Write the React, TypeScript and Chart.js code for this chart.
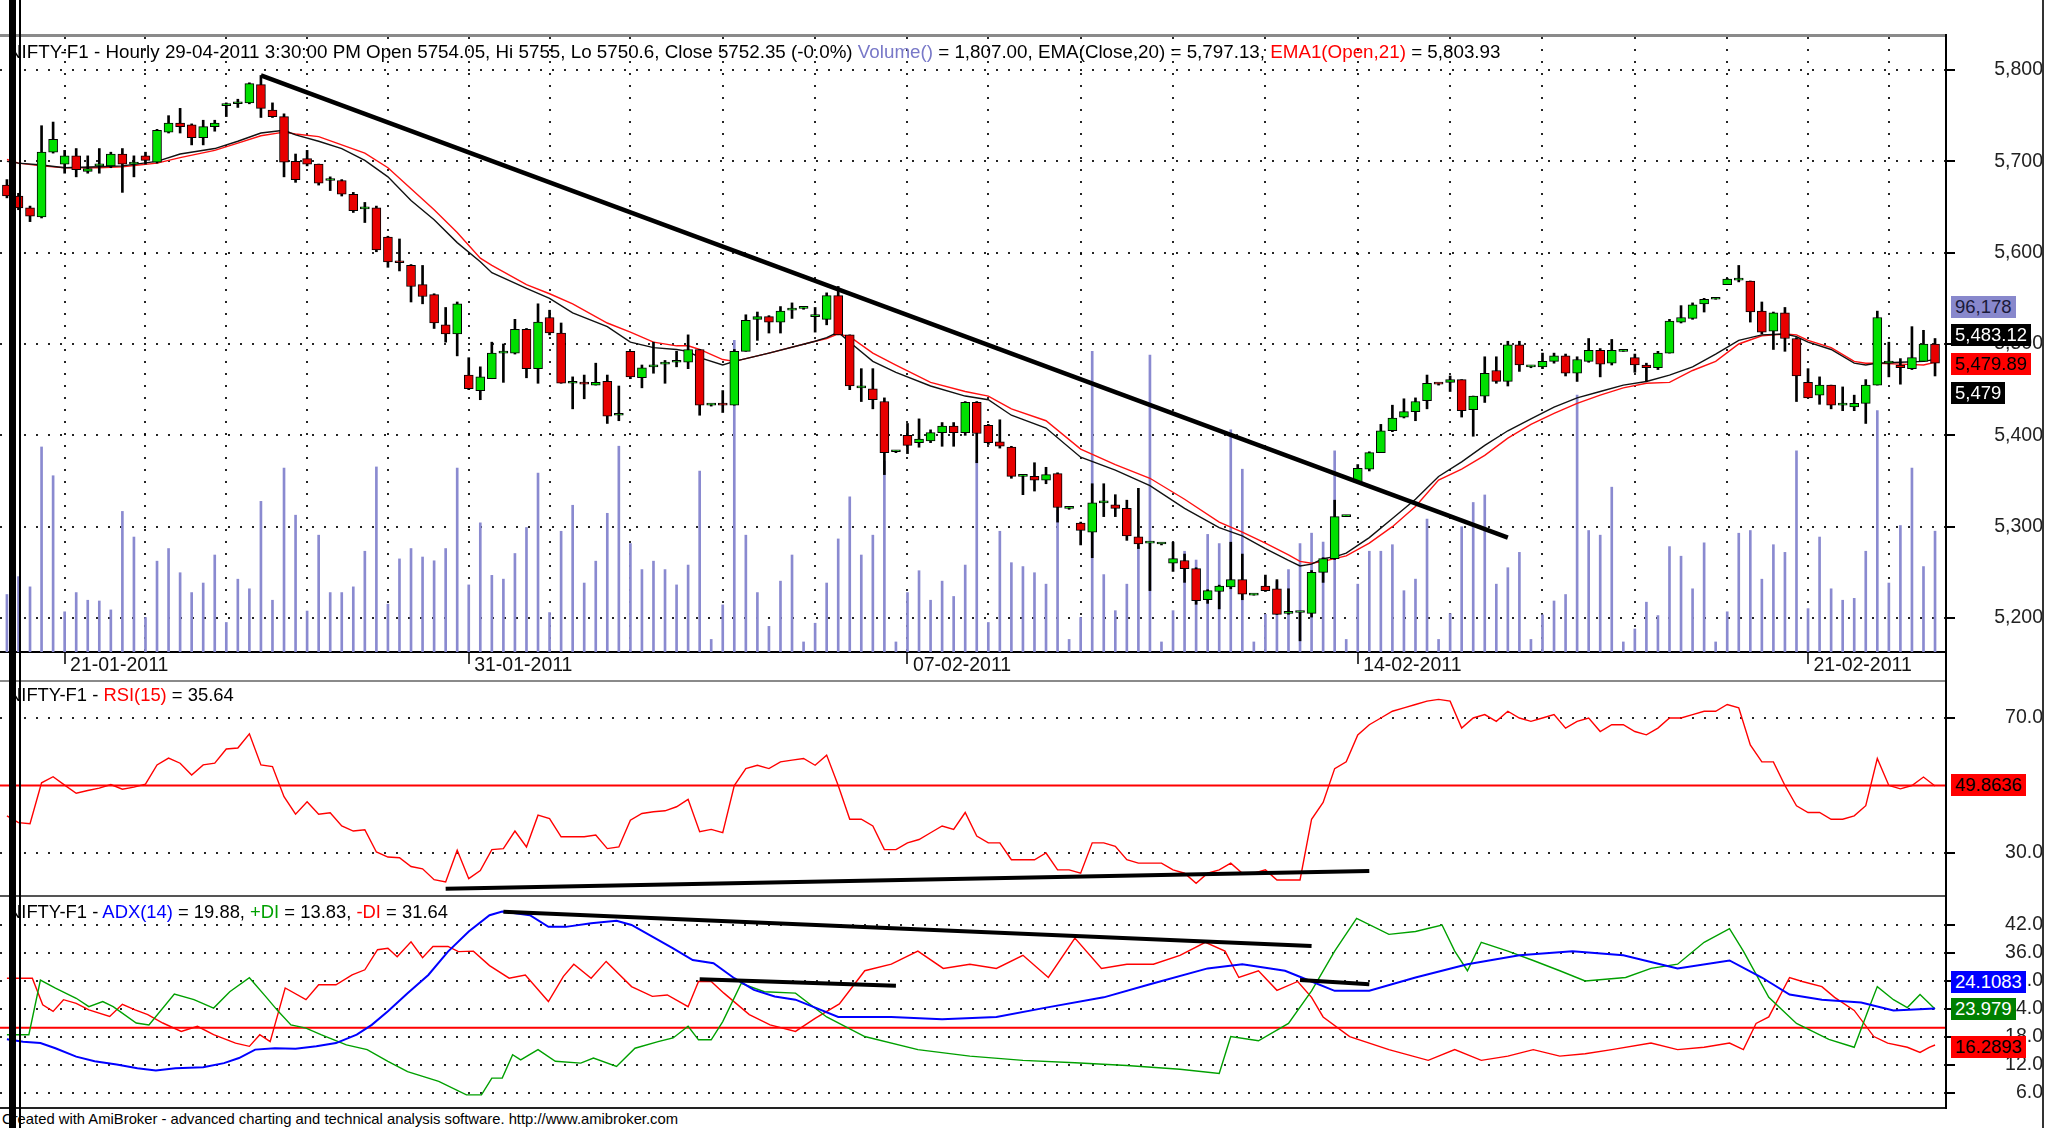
import React, { useEffect, useRef } from 'react';
import { Chart, registerables } from 'chart.js';

Chart.register(...registerables);

const FONT = '"Liberation Sans", Arial, Helvetica, sans-serif';
Chart.defaults.font.family = FONT;

// ---------------- DATA ----------------
const openP = [5674,5662,5649,5639,5710,5697,5706,5689,5695,5695,5708,5697,5706,5699,5732,5742,5740,5726,5738,5761,5763,5764,5784,5756,5749,5700,5703,5697,5679,5679,5664,5648,5649,5617,5590,5586,5565,5554,5521,5511,5466,5449,5462,5490,5490,5516,5473,5529,5512,5457,5457,5455,5459,5422,5492,5463,5475,5478,5480,5480,5494,5433,5434,5433,5492,5527,5530,5524,5537,5539,5530,5527,5553,5510,5452,5451,5437,5382,5400,5392,5394,5403,5410,5403,5436,5411,5393,5387,5355,5355,5351,5358,5320,5304,5294,5326,5324,5320,5289,5282,5281,5260,5263,5254,5220,5229,5234,5242,5225,5235,5232,5205,5206,5205,5250,5265,5311,5349,5363,5381,5405,5420,5426,5438,5457,5458,5461,5428,5443,5471,5459,5499,5475,5475,5481,5487,5468,5481,5493,5479,5492,5485,5477,5474,5490,5524,5528,5544,5549,5565,5570,5569,5536,5514,5534,5506,5458,5444,5455,5433,5431,5435,5455,5479,5477,5473,5481,5500];
const highP = [5680,5665,5651,5739,5743,5712,5714,5706,5714,5710,5714,5706,5710,5735,5750,5758,5741,5745,5745,5764,5768,5786,5794,5764,5752,5708,5712,5697,5683,5680,5666,5655,5651,5618,5615,5587,5586,5555,5540,5546,5485,5475,5502,5500,5527,5517,5544,5537,5523,5464,5466,5479,5466,5454,5492,5477,5502,5482,5492,5510,5494,5434,5449,5494,5532,5535,5531,5541,5545,5540,5540,5556,5563,5510,5473,5473,5441,5383,5413,5418,5406,5414,5414,5437,5437,5412,5417,5388,5356,5370,5365,5359,5321,5305,5347,5347,5335,5329,5342,5282,5281,5283,5270,5255,5231,5236,5283,5270,5225,5247,5242,5232,5206,5252,5266,5329,5311,5368,5382,5412,5433,5440,5441,5466,5457,5465,5461,5443,5486,5486,5503,5503,5476,5490,5490,5489,5486,5506,5495,5505,5492,5489,5479,5492,5527,5542,5545,5550,5549,5572,5586,5569,5546,5535,5540,5507,5473,5464,5455,5453,5444,5461,5536,5502,5484,5519,5515,5506];
const lowP = [5660,5647,5634,5638,5709,5687,5683,5687,5687,5693,5666,5683,5697,5698,5731,5731,5718,5718,5733,5749,5759,5763,5748,5748,5683,5677,5695,5674,5668,5662,5644,5633,5601,5584,5580,5546,5544,5517,5502,5487,5450,5439,5462,5458,5489,5463,5457,5510,5457,5429,5440,5455,5413,5416,5462,5452,5468,5457,5475,5473,5422,5432,5425,5433,5492,5504,5512,5512,5528,5538,5513,5521,5510,5450,5437,5429,5357,5381,5380,5387,5392,5388,5388,5400,5370,5390,5386,5353,5335,5339,5347,5305,5319,5280,5266,5311,5311,5285,5276,5230,5280,5251,5239,5215,5216,5210,5232,5220,5225,5229,5204,5204,5175,5201,5239,5264,5311,5348,5361,5381,5404,5419,5416,5429,5455,5448,5420,5399,5436,5457,5454,5470,5474,5473,5479,5465,5459,5480,5464,5477,5492,5469,5459,5472,5490,5523,5527,5535,5549,5565,5568,5524,5511,5494,5492,5437,5441,5434,5429,5427,5427,5413,5455,5464,5456,5472,5481,5465];
const closeP = [5662,5649,5640,5710,5724,5706,5691,5692,5696,5708,5697,5697,5701,5734,5742,5738,5726,5738,5742,5762,5763,5785,5758,5749,5699,5680,5697,5676,5679,5664,5646,5648,5603,5590,5589,5563,5552,5523,5511,5544,5451,5464,5490,5490,5516,5473,5524,5512,5457,5457,5456,5458,5421,5422,5464,5474,5476,5478,5480,5494,5433,5433,5433,5492,5526,5530,5524,5536,5537,5539,5530,5553,5510,5454,5452,5439,5381,5382,5389,5396,5403,5410,5403,5436,5402,5392,5388,5355,5355,5351,5357,5321,5320,5296,5326,5326,5320,5290,5281,5282,5281,5265,5254,5219,5230,5235,5242,5226,5225,5230,5204,5205,5206,5250,5265,5311,5311,5364,5381,5405,5419,5426,5437,5457,5456,5461,5427,5443,5468,5459,5499,5477,5475,5481,5487,5468,5483,5493,5478,5493,5492,5477,5474,5490,5525,5529,5543,5549,5549,5571,5570,5535,5513,5534,5506,5465,5441,5455,5433,5433,5435,5455,5529,5479,5474,5485,5500,5479];
const volume = [45750,60000,51850,163200,140300,32000,47300,41200,40600,33500,111900,91500,27450,72300,82350,63100,47300,54900,77200,23500,57950,50300,119900,41200,146400,108900,32600,93000,47300,47300,51850,80200,147300,38100,74100,82350,75600,72600,82350,146400,53400,102800,61000,58000,78400,99100,142400,31400,96100,116800,54900,72300,110400,163800,86300,65600,72300,65600,53400,69200,144000,10000,37500,248000,93000,47300,20400,56400,77200,8000,22900,54900,90000,123500,77200,93000,152000,8000,47300,64700,41200,56400,44200,69200,152500,23500,96100,71100,68000,63100,54000,112900,10000,27450,239400,61600,32900,54000,83900,236400,8000,32900,80200,73200,93600,86300,176900,145500,8000,29900,56400,65600,86300,94600,87500,160100,10000,54000,80200,80200,85400,48800,58000,105800,10000,30500,99700,119000,125000,54000,67100,79300,10000,29600,40600,45750,204400,96700,93000,131200,8000,18300,39650,29000,83900,76250,50300,86900,8000,32000,94550,96700,57950,85400,79300,160100,34500,91500,50300,41200,42700,80200,192150,54900,100650,146400,68000,96178];

const emaClose: [number, number][] = [[0,5700],[1,5698],[3,5696],[5,5693],[8,5694],[10,5695],[13,5700],[15,5708],[18,5714],[20,5722],[22,5731],[24,5734],[25,5729],[27,5722],[29,5714],[31,5701],[33,5683],[35,5657],[37,5636],[39,5611],[41,5590],[42,5578],[45,5561],[47,5550],[49,5534],[52,5519],[54,5502],[56,5496],[58,5494],[59,5492],[60,5485],[62,5477],[63,5481],[66,5490],[70,5503],[71,5507],[72,5513],[73,5502],[75,5481],[77,5469],[80,5454],[83,5443],[85,5439],[87,5422],[90,5408],[93,5376],[96,5362],[99,5345],[102,5320],[105,5299],[107,5290],[109,5276],[111,5263],[112,5257],[113,5259],[114,5265],[115,5267],[116,5271],[118,5288],[120,5309],[122,5330],[124,5355],[126,5371],[128,5389],[130,5405],[132,5418],[134,5431],[136,5441],[138,5448],[140,5455],[142,5459],[144,5466],[146,5475],[148,5489],[150,5504],[152,5510],[154,5511],[155,5508],[156,5502],[158,5494],[160,5479],[161,5477],[162,5479],[164,5480],[166,5481],[167,5483.12]];
const emaOpen: [number, number][] = [[0,5702],[1,5698],[3,5695],[5,5693],[8,5693],[10,5694],[13,5698],[15,5704],[18,5712],[20,5720],[22,5728],[24,5732],[25,5730],[27,5727],[29,5718],[31,5709],[33,5693],[35,5670],[37,5647],[39,5622],[41,5594],[42,5586],[45,5565],[47,5555],[49,5544],[52,5523],[54,5513],[56,5502],[58,5498],[59,5498],[60,5494],[62,5483],[63,5481],[66,5490],[70,5503],[71,5506],[72,5511],[73,5508],[75,5490],[77,5477],[80,5458],[83,5448],[85,5443],[87,5429],[90,5416],[93,5385],[96,5368],[99,5353],[102,5330],[105,5305],[107,5294],[109,5282],[111,5269],[112,5262],[113,5260],[114,5262],[115,5265],[116,5268],[118,5282],[120,5300],[122,5322],[124,5351],[126,5363],[128,5378],[130,5397],[132,5412],[134,5424],[136,5435],[138,5444],[140,5452],[142,5457],[144,5458],[146,5471],[148,5481],[150,5500],[152,5509],[154,5511],[155,5510],[156,5504],[158,5496],[160,5481],[161,5479],[162,5479],[164,5478],[166,5477],[167,5479.89]];
const priceTrend: [number, number][] = [[22,5794],[130,5288]];

const rsiPts: [number, number][] = [[0,41],[1,39],[2,38.7],[3,50.8],[4,52.6],[5,50.1],[6,47.7],[7,48.5],[8,49.2],[9,50.3],[10,48.9],[11,49.5],[12,50.4],[13,56.1],[14,58.1],[15,56.6],[16,53.1],[17,56.1],[18,56.6],[19,60.8],[20,61.1],[21,65.3],[22,56.1],[23,55.6],[24,46.7],[25,41.5],[26,45.2],[27,41.5],[28,41.9],[29,38],[30,36.5],[31,36.9],[32,30.3],[33,28.8],[34,28.6],[35,26],[36,25.3],[37,22.1],[38,21.4],[39,30.8],[40,22.4],[41,24.8],[42,31],[43,31.3],[44,36.5],[45,31.8],[46,41.2],[47,40.2],[48,34.8],[49,34.8],[50,34.8],[51,35.3],[52,31.3],[53,31.8],[54,39.7],[55,41.7],[56,42.2],[57,42.5],[58,43.7],[59,45.9],[60,36.3],[61,37],[62,36],[63,50],[64,55],[65,56],[66,55],[67,57],[68,57.5],[69,58],[70,56],[71,59],[72,50],[73,40],[74,40],[75,38],[76,31],[77,31],[78,33],[79,34],[80,36],[81,38],[82,37],[83,42],[84,35],[85,33],[86,33],[87,28],[88,28],[89,28],[90,30],[91,25],[92,25],[93,24],[94,33],[95,33],[96,32],[97,28],[98,27],[99,27],[100,27],[101,25],[102,24],[103,21],[104,24],[105,25],[106,27],[107,24],[108,24],[109,25],[110,22],[111,22],[112,22],[113,40],[114,45],[115,55],[116,57],[117,65],[118,68],[119,70],[120,72],[121,73],[122,74],[123,75],[124,75.5],[125,75],[126,67],[127,70],[128,71],[129,69],[130,72],[131,70],[132,69],[133,70],[134,71],[135,67],[136,69],[137,70],[138,66],[139,68],[140,68],[141,66],[142,65],[143,67],[144,70],[145,70],[146,71],[147,72],[148,72],[149,74],[150,73],[151,62],[152,57],[153,57],[154,50],[155,44],[156,42],[157,42],[158,40],[159,40],[160,41],[161,44],[162,58],[163,50],[164,49],[165,50],[166,52.5],[167,49.86]];
const rsiTrend: [number, number][] = [[38,19.4],[118,24.7]];
const rsiLevel = 50;

const adxPts: [number, number][] = [[0,17.5],[1.4,17],[2.9,16.7],[4.2,15.6],[6,13.8],[7.6,12.8],[9.5,12.1],[11.3,11.3],[12.9,10.8],[14.6,11.3],[17,11.5],[18.8,12.4],[20.1,13.5],[21.5,15.3],[23.2,15.6],[25,15.5],[26.8,16],[28.5,16.7],[30.3,18.5],[31.6,20.6],[33,23.5],[34.7,27.4],[36.5,31.3],[38.2,36.3],[40,40.6],[41.8,44.1],[42.9,44.9],[45.3,44.1],[46.9,41.6],[48.4,41.6],[50.6,42.4],[52.8,42.9],[54.1,42],[55.9,39.5],[57.7,37],[59.4,34.5],[61.2,33.8],[63,30.6],[64.7,28.1],[66.5,26.7],[68.3,26],[72,22.3],[76.6,22.3],[81,21.8],[85.7,22.3],[90,24.3],[95,26.5],[99,29.3],[104,32.7],[107,33.6],[110.7,32.2],[113,29.9],[115,27.9],[118,27.9],[122,30.75],[126.5,33.6],[131,35.5],[135.6,36.4],[140,35.5],[144.7,32.7],[149.2,34.4],[152,30.75],[154.4,27.1],[157.2,26],[160.6,25.4],[163.4,23.7],[167,24.11]];
const pdiPts: [number, number][] = [[0,18.5],[1.9,18.5],[2.9,30.2],[4.2,28.5],[6,26.3],[7.1,24.5],[8.3,25.6],[9.2,24.5],[11.2,21],[12.3,20.6],[14.5,27.2],[16.2,26],[17.9,24.2],[19.3,27.7],[21,30.7],[22.4,26.7],[23.5,23.5],[24.6,20.6],[25.9,19.9],[27.2,18.5],[29.4,16.3],[31.2,15.3],[33,12.8],[34.7,10.6],[37.4,8.5],[39.8,5.6],[41.1,5.6],[42,9.2],[42.9,9.2],[43.8,14.2],[44.5,13.1],[46,15.3],[47.5,12.8],[49.7,12.4],[50.8,13.5],[52.8,11.7],[54.4,15.6],[56.4,17],[57.7,17.8],[59,20.3],[59.9,17.4],[61,17.4],[62,21.3],[63.6,29.5],[65.6,27.7],[68.3,27.4],[71,22.3],[74.3,18.1],[78.9,15.3],[83.4,13.9],[88,13],[92.5,12.5],[97,11.9],[101.6,11.1],[105,10.2],[106,18.1],[108.4,17.2],[111,20.9],[113,27.9],[115,36.4],[116.9,43.4],[119.7,40],[122,40.6],[124.3,42],[125.4,36.4],[126.5,32.2],[127.7,38.3],[130,36.4],[132.2,34.4],[134.5,32.2],[136.7,30],[140.2,30.75],[142.4,32.7],[144.7,33.6],[147,38.3],[149.2,41.2],[150.4,36.4],[152.6,26.5],[155,20.9],[157.8,17.5],[160,15.8],[161.2,23.7],[162,28.8],[163.4,26],[164.6,24.3],[165.7,27.1],[167,23.98]];
const mdiPts: [number, number][] = [[0,30.6],[2.2,30.6],[3.1,24.9],[4,23.5],[4.9,26],[6,25.2],[7.1,23.8],[8.9,22.4],[10,25],[11.1,23.8],[12.2,22.8],[13.5,21],[15.1,19.2],[16.5,20.3],[17.9,18.5],[19.8,16.7],[21,16],[21.9,18.5],[22.8,17],[24.1,28.5],[25.9,26],[27,29.2],[28.5,29.2],[29.9,31.3],[31,32.4],[32.1,36.7],[33,37],[33.8,35.2],[35,38.4],[36,35],[36.9,37.4],[38.2,37.4],[39.1,36.3],[40.4,36.4],[41.8,33.3],[43.5,30.6],[44.9,31.3],[46.9,25.6],[48.2,31],[49.1,33.6],[50.6,30.6],[51.9,34.2],[54.1,28.8],[55.9,26.7],[57.2,27],[59,24.5],[59.9,29.9],[61,29.9],[62.1,27.4],[64.3,22.8],[66.1,20.6],[68.3,19.2],[70,22],[72.1,25.1],[74.3,32.2],[76.6,33.6],[78.9,36.4],[81.1,32.7],[83.4,33.6],[85.7,32.7],[88,35.5],[90.2,30.75],[92.5,39.2],[94.8,32.7],[97,33.6],[99.3,33.6],[101.6,35.5],[103.8,38.3],[105.5,36.4],[106.7,30.75],[108.4,32.2],[110,28],[111.8,29.9],[113,26.5],[114,22.3],[116.3,18.1],[119.7,15.3],[123.1,13],[125.4,15.3],[127.7,13],[130,13.9],[132.2,15.3],[134.5,13.9],[136.7,14.4],[139,15.3],[142.4,16.7],[144.7,15.3],[147,15.8],[149.2,16.7],[150.4,15.3],[151.5,20.9],[152.6,22.3],[154.4,30.75],[155.5,29.9],[157.2,28.8],[158.3,26.5],[160,23.7],[161.7,18.1],[162.9,16.7],[164.6,15.8],[165.7,14.7],[166.5,15.8],[167,16.29]];
const adxTrends: [number, number][][] = [[[43,44.85],[113,37.5]],[[60,30.4],[77,29.0]],[[112,30.2],[118,29.3]]];
const adxLevel = 20;

const dayStarts = [5,12,19,26,33,40,47,54,62,70,78,85,93,101,109,117,125,133,141,149,156,163];
const dateLabels: Record<number, string> = { 5: '21-01-2011', 40: '31-01-2011', 78: '07-02-2011', 117: '14-02-2011', 156: '21-02-2011' };
const priceTicks = [5200, 5300, 5400, 5500, 5600, 5700, 5800];
const rsiTicks = [30, 70];
const adxTicks = [6, 12, 18, 24, 30, 36, 42];

// ---------------- STYLE ----------------
const X_MIN = -0.6;
const X_MAX = 167.95;
const GREEN = '#00e000';
const RED = '#e80000';
const DOT = 'rgba(0,0,0,0.85)';
const DASH = [2, 10];
const AXIS_FONT = { family: FONT, size: 19.5 };

const pts = (a: [number, number][]) => a.map(([x, y]) => ({ x, y }));

function yAxis(min: number, max: number, ticks: number[], fmt: (v: number) => string, pad: number) {
  return {
    type: 'linear',
    position: 'right',
    min,
    max,
    afterBuildTicks: (s: any) => { s.ticks = ticks.map((v) => ({ value: v })); },
    afterFit: (s: any) => { s.width = 97; s.paddingTop = 0; s.paddingBottom = 0; },
    ticks: { padding: pad, crossAlign: 'far', color: '#222', font: AXIS_FONT, callback: (v: any) => fmt(Number(v)) },
    grid: { color: DOT, lineWidth: 2, drawTicks: true, tickLength: 9, tickColor: '#000', tickWidth: 2 },
    border: { display: false, dash: DASH },
  };
}

const baseOptions = {
  responsive: false,
  maintainAspectRatio: false,
  animation: false,
  events: [],
  layout: { padding: 0, autoPadding: false },
  plugins: { legend: { display: false }, tooltip: { enabled: false }, title: { display: false } },
};

export default function App() {
  const priceRef = useRef<HTMLCanvasElement>(null);
  const rsiRef = useRef<HTMLCanvasElement>(null);
  const adxRef = useRef<HTMLCanvasElement>(null);

  useEffect(() => {
    const idx = openP.map((_, i) => i);
    const charts: Chart[] = [];

    charts.push(new Chart(priceRef.current as HTMLCanvasElement, {
      type: 'bar',
      data: {
        datasets: [
          { type: 'line', label: 'Trendline', data: pts(priceTrend), borderColor: '#000', borderWidth: 4.5, pointRadius: 0, yAxisID: 'y', order: 0 },
          { type: 'bar', label: 'Candle body', data: idx.map((i) => ({ x: i, y: [openP[i], closeP[i]] })), backgroundColor: idx.map((i) => (closeP[i] >= openP[i] ? GREEN : RED)), borderColor: '#000', borderWidth: 1, borderSkipped: false, barThickness: 9, minBarLength: 2, grouped: false, yAxisID: 'y', order: 1 },
          { type: 'bar', label: 'Candle wick', data: idx.map((i) => ({ x: i, y: [lowP[i], highP[i]] })), backgroundColor: '#000', borderWidth: 0, barThickness: 2, minBarLength: 1, grouped: false, yAxisID: 'y', order: 2 },
          { type: 'line', label: 'EMA(Close,20)', data: pts(emaClose), borderColor: '#111', borderWidth: 1.4, pointRadius: 0, yAxisID: 'y', order: 3 },
          { type: 'line', label: 'EMA1(Open,21)', data: pts(emaOpen), borderColor: '#ff1010', borderWidth: 1.4, pointRadius: 0, yAxisID: 'y', order: 4 },
          { type: 'bar', label: 'Volume', data: idx.map((i) => ({ x: i, y: volume[i] })), backgroundColor: '#8a8ad0', borderWidth: 0, barThickness: 2, grouped: false, yAxisID: 'yv', order: 5 },
        ],
      } as any,
      options: {
        ...baseOptions,
        scales: {
          x: {
            type: 'linear', min: X_MIN, max: X_MAX, offset: false,
            afterBuildTicks: (s: any) => { s.ticks = dayStarts.map((v) => ({ value: v })); },
            afterFit: (s: any) => { s.height = 29; s.paddingLeft = 0; s.paddingRight = 0; },
            ticks: { autoSkip: false, maxRotation: 0, minRotation: 0, align: 'start', padding: -10, color: '#111', font: AXIS_FONT, callback: (v: any) => (dateLabels[v] ? ' ' + dateLabels[v] : '') },
            grid: { color: DOT, lineWidth: 2, offset: false, drawTicks: true, tickLength: 12, tickWidth: 1.5, tickColor: (c: any) => (c.tick && dateLabels[c.tick.value] ? '#000' : 'rgba(0,0,0,0)') },
            border: { display: true, color: '#000', width: 2, dash: DASH },
          },
          y: yAxis(5162.77, 5836.13, priceTicks, (v) => v.toLocaleString('en-US'), 36),
          yv: { type: 'linear', display: false, min: 0, max: 489500 },
        },
      } as any,
    }));

    charts.push(new Chart(rsiRef.current as HTMLCanvasElement, {
      type: 'line',
      data: {
        datasets: [
          { label: 'RSI trendline', data: pts(rsiTrend), borderColor: '#000', borderWidth: 4, pointRadius: 0, order: 0 },
          { label: 'RSI(15)', data: pts(rsiPts), borderColor: '#ff0000', borderWidth: 1.4, pointRadius: 0, order: 1 },
          { label: '50', data: [{ x: X_MIN, y: rsiLevel }, { x: X_MAX, y: rsiLevel }], borderColor: '#ff0000', borderWidth: 2, pointRadius: 0, order: 2 },
        ],
      } as any,
      options: {
        ...baseOptions,
        scales: {
          x: { type: 'linear', display: false, min: X_MIN, max: X_MAX },
          y: yAxis(16.96, 80.96, rsiTicks, (v) => v.toFixed(1), 44),
        },
      } as any,
    }));

    charts.push(new Chart(adxRef.current as HTMLCanvasElement, {
      type: 'line',
      data: {
        datasets: [
          ...adxTrends.map((t, k) => ({ label: 'ADX trendline ' + k, data: pts(t), borderColor: '#000', borderWidth: 4, pointRadius: 0, order: 0 })),
          { label: 'ADX(14)', data: pts(adxPts), borderColor: '#0000ff', borderWidth: 2, pointRadius: 0, order: 1 },
          { label: '+DI', data: pts(pdiPts), borderColor: '#00a000', borderWidth: 1.4, pointRadius: 0, order: 2 },
          { label: '-DI', data: pts(mdiPts), borderColor: '#ff0000', borderWidth: 1.4, pointRadius: 0, order: 3 },
          { label: '20', data: [{ x: X_MIN, y: adxLevel }, { x: X_MAX, y: adxLevel }], borderColor: '#ff0000', borderWidth: 2, pointRadius: 0, order: 4 },
        ],
      } as any,
      options: {
        ...baseOptions,
        scales: {
          x: { type: 'linear', display: false, min: X_MIN, max: X_MAX },
          y: yAxis(2.79, 48.0, adxTicks, (v) => v.toFixed(1), 44),
        },
      } as any,
    }));

    return () => charts.forEach((c) => c.destroy());
  }, []);

  const abs = (s: React.CSSProperties): React.CSSProperties => ({ position: 'absolute', ...s });
  const tag = (text: string, top: number, bg: string, color: string) => (
    <div style={abs({ left: 1951, top, height: 22, lineHeight: '22px', padding: '0 4px', background: bg, color, fontSize: 18.5, whiteSpace: 'nowrap' })}>{text}</div>
  );
  const titleStyle = (top: number, size: number): React.CSSProperties => abs({ left: 8, top, fontSize: size, lineHeight: `${size}px`, whiteSpace: 'nowrap', color: '#000' });

  return (
    <div style={{ position: 'fixed', left: 0, top: 0, width: 2057, height: 1128, background: '#fff', overflow: 'hidden', fontFamily: FONT }}>
      <canvas ref={priceRef} width={2043} height={644} style={abs({ left: 0, top: 37, width: 2043, height: 644 })} />
      <canvas ref={rsiRef} width={2043} height={216} style={abs({ left: 0, top: 681, width: 2043, height: 216 })} />
      <canvas ref={adxRef} width={2043} height={211} style={abs({ left: 0, top: 897, width: 2043, height: 211 })} />

      {/* frame lines */}
      <div style={abs({ left: 0, top: 34, width: 1947, height: 3, background: '#8a8a8a' })} />
      <div style={abs({ left: 0, top: 680, width: 1947, height: 2, background: '#8a8a8a' })} />
      <div style={abs({ left: 0, top: 895, width: 1947, height: 2, background: '#555' })} />
      <div style={abs({ left: 0, top: 1107, width: 1947, height: 2, background: '#222' })} />
      <div style={abs({ left: 1945, top: 34, width: 2, height: 1075, background: '#000' })} />
      <div style={abs({ left: 2042, top: 0, width: 2, height: 1128, background: '#333' })} />

      {/* titles */}
      <div style={titleStyle(43, 18.8)}>
        NIFTY-F1 - Hourly 29-04-2011 3:30:00 PM Open 5754.05, Hi 5755, Lo 5750.6, Close 5752.35 (-0.0%){' '}
        <span style={{ color: '#7878c8' }}>Volume()</span> = 1,807.00, EMA(Close,20) = 5,797.13,{' '}
        <span style={{ color: '#ff0000' }}>EMA1(Open,21)</span> = 5,803.93
      </div>
      <div style={titleStyle(686, 18.4)}>
        NIFTY-F1 - <span style={{ color: '#ff0000' }}>RSI(15)</span> = 35.64
      </div>
      <div style={titleStyle(903, 18.4)}>
        NIFTY-F1 - <span style={{ color: '#0000ff' }}>ADX(14)</span> = 19.88, <span style={{ color: '#00a000' }}>+DI</span> = 13.83,{' '}
        <span style={{ color: '#ff0000' }}>-DI</span> = 31.64
      </div>
      <div style={abs({ left: 2, top: 1112, fontSize: 14.8, lineHeight: '15px', whiteSpace: 'nowrap', color: '#000' })}>
        Created with AmiBroker - advanced charting and technical analysis software. http://www.amibroker.com
      </div>

      {/* last-value tags */}
      {tag('96,178', 296, '#8888cc', '#1a1a3a')}
      {tag('5,483.12', 324, '#000', '#fff')}
      {tag('5,479.89', 353, '#ff0000', '#000')}
      {tag('5,479', 382, '#000', '#fff')}
      {tag('49.8636', 774, '#ff0000', '#000')}
      {tag('24.1083', 971, '#0000ff', '#fff')}
      {tag('23.979', 998, '#008000', '#fff')}
      {tag('16.2893', 1036, '#ff0000', '#000')}

      {/* left black bars */}
      <div style={abs({ left: 9, top: 0, width: 7, height: 1128, background: '#000' })} />
      <div style={abs({ left: 19, top: 0, width: 2, height: 1128, background: '#000' })} />
    </div>
  );
}
